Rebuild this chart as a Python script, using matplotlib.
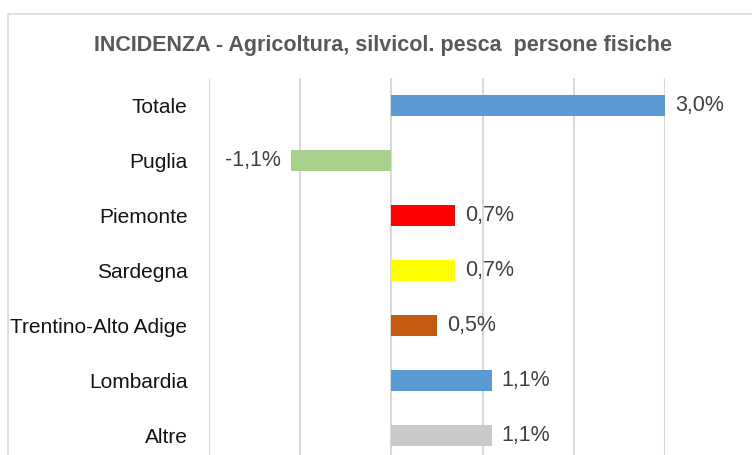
import matplotlib
matplotlib.use("Agg")
import matplotlib.pyplot as plt
from matplotlib.patches import Rectangle

regioni = ["Totale", "Puglia", "Piemonte", "Sardegna",
           "Trentino-Alto Adige", "Lombardia", "Altre"]
incidenza = [3.0, -1.1, 0.7, 0.7, 0.5, 1.1, 1.1]
colori = ["#5B9BD5", "#A9D18E", "#FF0000", "#FFFF00",
          "#C55A11", "#5B9BD5", "#C9C9C9"]
titolo = "INCIDENZA - Agricoltura, silvicol. pesca  persone fisiche"

plt.rcParams["font.family"] = ["Liberation Sans", "DejaVu Sans"]

fig = plt.figure(figsize=(7.52, 4.55), dpi=100)

# cornice grigia del grafico
fig.patches.append(Rectangle((8 / 752, -0.1), 1.0, 1 - 14 / 455 + 0.1,
                             transform=fig.transFigure, fill=False,
                             edgecolor="#D9D9D9", linewidth=1.2))

ax = fig.add_axes([209 / 752, -8 / 455, 456 / 752, 385 / 455])
y = list(range(len(regioni)))
ax.barh(y, incidenza, height=0.37, color=colori, zorder=3)
ax.set_xlim(-2, 3)
ax.set_ylim(len(regioni) - 0.5, -0.5)
ax.set_xticks([-2, -1, 0, 1, 2, 3])
ax.xaxis.grid(True, color="#D9D9D9", linewidth=1.5, zorder=0)
ax.tick_params(axis="x", bottom=False, labelbottom=False)
ax.tick_params(axis="y", left=False, pad=12)
ax.set_yticks(y)
ax.set_yticklabels(regioni, fontsize=15, color="#141414")
for s in ax.spines.values():
    s.set_visible(False)

for yi, v in zip(y, incidenza):
    testo = ("%.1f%%" % v).replace(".", ",")
    if v >= 0:
        ax.annotate(testo, (v, yi), xytext=(10, 0), textcoords="offset pixels",
                    ha="left", va="center", fontsize=15.5, color="#404040")
    else:
        ax.annotate(testo, (v, yi), xytext=(-10, 0), textcoords="offset pixels",
                    ha="right", va="center", fontsize=15.5, color="#404040")

fig.text(0.509, 1 - 45 / 455, titolo, ha="center", va="center",
         fontsize=15.5, fontweight="bold", color="#595959")

fig.savefig("out.png", dpi=100)
